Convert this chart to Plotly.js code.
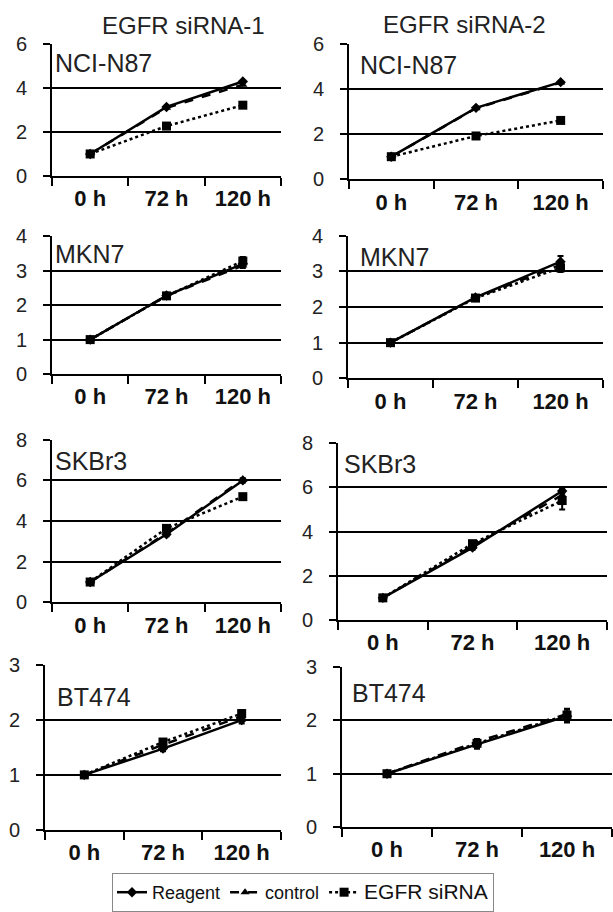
<!DOCTYPE html>
<html>
<head>
<meta charset="utf-8">
<script src="https://cdn.plot.ly/plotly-3.0.1.min.js"></script>
<style>html,body{margin:0;padding:0;background:#fff;}#chart{width:613px;height:912px;}</style>
</head>
<body>
<div id="chart"></div>
<script>
// ---- data ----
const timepoints = ['0 h', '72 h', '120 h'];
const seriesNames = ['Reagent', 'control', 'EGFR siRNA'];
const columnTitles = ['EGFR siRNA-1', 'EGFR siRNA-2'];
const cellLines = ['NCI-N87', 'MKN7', 'SKBr3', 'BT474'];

// NCI-N87
const n87_1_reagent = [1, 3.14, 4.30];
const n87_1_control = [1, 3.10, 4.15];
const n87_1_sirna   = [1, 2.27, 3.22];
const n87_2_reagent = [1, 3.17, 4.31];
const n87_2_control = [1, 3.15, 4.29];
const n87_2_sirna   = [1, 1.92, 2.61];
// MKN7
const mkn7_1_reagent = [1, 2.28, 3.20];
const mkn7_1_control = [1, 2.27, 3.15];
const mkn7_1_sirna   = [1, 2.27, 3.28];
const mkn7_2_reagent = [1, 2.27, 3.27];
const mkn7_2_control = [1, 2.26, 3.18];
const mkn7_2_sirna   = [1, 2.25, 3.10];
// SKBr3
const skbr3_1_reagent = [1, 3.35, 6.00];
const skbr3_1_control = [1, 3.40, 6.05];
const skbr3_1_sirna   = [1, 3.64, 5.20];
const skbr3_2_reagent = [1, 3.27, 5.83];
const skbr3_2_control = [1, 3.35, 5.65];
const skbr3_2_sirna   = [1, 3.45, 5.40];
// BT474
const bt474_1_reagent = [1, 1.48, 2.00];
const bt474_1_control = [1, 1.55, 2.07];
const bt474_1_sirna   = [1, 1.60, 2.12];
const bt474_2_reagent = [1, 1.55, 2.08];
const bt474_2_control = [1, 1.60, 2.12];
const bt474_2_sirna   = [1, 1.57, 2.10];

// error bars (SD), where visible
const mkn7_1_err   = [0, 0.03, 0.12];
const mkn7_2_err   = [0, 0.04, 0.16];
const skbr3_1_err  = [0, 0.10, 0.10];
const skbr3_2_err  = [0, 0.12, 0.40];
const bt474_1_err  = [0, 0.05, 0.06];
const bt474_2_err  = [0, 0.08, 0.12];
const zero_err     = [0, 0, 0];

// ---- layout geometry (pixels) ----
const W = 613, H = 912;
const panels = [
  {x0: 52,  x1: 281, yt: 44.3,  yb: 176.7, ymax: 6, dtick: 2, lx: 53,  ly: 63,  cell: 0, series: [n87_1_reagent, n87_1_control, n87_1_sirna], err: [zero_err, zero_err, zero_err]},
  {x0: 349, x1: 603, yt: 44.3,  yb: 180,   ymax: 6, dtick: 2, lx: 358, ly: 65,  cell: 0, series: [n87_2_reagent, n87_2_control, n87_2_sirna], err: [zero_err, zero_err, zero_err]},
  {x0: 52,  x1: 281, yt: 237.3, yb: 375.7, ymax: 4, dtick: 1, lx: 53,  ly: 255, cell: 1, series: [mkn7_1_reagent, mkn7_1_control, mkn7_1_sirna], err: [mkn7_1_err, zero_err, mkn7_1_err]},
  {x0: 348, x1: 603, yt: 236.7, yb: 380,   ymax: 4, dtick: 1, lx: 358, ly: 258, cell: 1, series: [mkn7_2_reagent, mkn7_2_control, mkn7_2_sirna], err: [mkn7_2_err, zero_err, mkn7_1_err]},
  {x0: 52,  x1: 281, yt: 441.7, yb: 605,   ymax: 8, dtick: 2, lx: 53,  ly: 463, cell: 2, series: [skbr3_1_reagent, skbr3_1_control, skbr3_1_sirna], err: [skbr3_1_err, zero_err, skbr3_1_err]},
  {x0: 338, x1: 607, yt: 445,   yb: 622.7, ymax: 8, dtick: 2, lx: 342, ly: 466, cell: 2, series: [skbr3_2_reagent, skbr3_2_control, skbr3_2_sirna], err: [skbr3_1_err, zero_err, skbr3_2_err]},
  {x0: 45,  x1: 281, yt: 668.3, yb: 833.3, ymax: 3, dtick: 1, lx: 55,  ly: 700, cell: 3, series: [bt474_1_reagent, bt474_1_control, bt474_1_sirna], err: [bt474_1_err, zero_err, bt474_1_err]},
  {x0: 342, x1: 612, yt: 670,   yb: 830.7, ymax: 3, dtick: 1, lx: 350, ly: 696, cell: 3, series: [bt474_2_reagent, bt474_2_control, bt474_2_sirna], err: [bt474_2_err, zero_err, bt474_2_err]}
];

const styles = [
  {dash: 'solid', symbol: 'diamond', size: 8},
  {dash: 'dash', symbol: 'triangle-up', size: 8},
  {dash: 'dot', symbol: 'square', size: 9}
];
const legendLabels = [
  seriesNames[0],
  seriesNames[1],
  '<span style="font-size:21px">' + seriesNames[2] + '</span>'
];

const FONT = 'Liberation Sans, Arial, sans-serif';
const traces = [];
const layout = {
  width: W, height: H,
  margin: {l: 0, r: 0, t: 0, b: 0},
  paper_bgcolor: '#fff', plot_bgcolor: '#fff',
  font: {family: FONT, color: '#111'},
  showlegend: true,
  legend: {
    orientation: 'h', x: 112 / W, xanchor: 'left', y: 1 - 877 / H, yanchor: 'top',
    bordercolor: '#888', borderwidth: 1, bgcolor: '#fff',
    font: {size: 18, family: FONT, color: '#111'},
    itemwidth: 30, tracegroupgap: 0, itemclick: false
  },
  annotations: [],
  shapes: []
};

panels.forEach((p, i) => {
  const n = i + 1;
  const xa = 'xaxis' + (n === 1 ? '' : n);
  const ya = 'yaxis' + (n === 1 ? '' : n);
  layout[xa] = {
    domain: [p.x0 / W, p.x1 / W],
    anchor: 'y' + (n === 1 ? '' : n),
    type: 'category', categoryorder: 'array', categoryarray: timepoints,
    range: [-0.5, 2.5],
    tickson: 'boundaries', ticks: 'outside', ticklen: 8, tickwidth: 2, tickcolor: '#000',
    showline: true, linecolor: '#000', linewidth: 2,
    showgrid: false, zeroline: false,
    tickfont: {family: FONT, size: 22, weight: 'bold', color: '#111'},
    ticklabelstandoff: 2,
    fixedrange: true
  };
  layout[ya] = {
    domain: [1 - p.yb / H, 1 - p.yt / H],
    anchor: 'x' + (n === 1 ? '' : n),
    range: [0, p.ymax], dtick: p.dtick, tick0: 0,
    ticks: 'outside', ticklen: 7, tickwidth: 2, tickcolor: '#000',
    showline: true, linecolor: '#000', linewidth: 2,
    showgrid: true, gridcolor: '#000', gridwidth: 2,
    zeroline: false,
    tickfont: {family: FONT, size: 20, color: '#222'},
    ticklabelstandoff: 12,
    fixedrange: true
  };
  p.series.forEach((vals, k) => {
    const hasErr = p.err[k].some(v => v > 0);
    traces.push({
      type: 'scatter', mode: 'lines+markers',
      x: timepoints, y: vals,
      xaxis: 'x' + (n === 1 ? '' : n), yaxis: 'y' + (n === 1 ? '' : n),
      name: legendLabels[k], legendgroup: seriesNames[k], showlegend: i === 0,
      line: {color: '#000', width: 2.5, dash: styles[k].dash},
      marker: {color: '#000', symbol: styles[k].symbol, size: styles[k].size},
      error_y: hasErr ? {type: 'data', array: p.err[k], visible: true, color: '#000', thickness: 2, width: 3} : {visible: false},
      cliponaxis: false
    });
  });
  layout.annotations.push({
    text: cellLines[p.cell], xref: 'paper', yref: 'paper',
    x: p.lx / W, y: 1 - p.ly / H, xanchor: 'left', yanchor: 'middle',
    showarrow: false, font: {family: FONT, size: 25, color: '#222'}
  });
});

layout.annotations.push({
  text: columnTitles[0], xref: 'paper', yref: 'paper',
  x: 183 / W, y: 1 - 26 / H, xanchor: 'center', yanchor: 'middle',
  showarrow: false, font: {family: FONT, size: 24, color: '#222'}
});
layout.annotations.push({
  text: columnTitles[1], xref: 'paper', yref: 'paper',
  x: 464 / W, y: 1 - 25 / H, xanchor: 'center', yanchor: 'middle',
  showarrow: false, font: {family: FONT, size: 24, color: '#222'}
});

Plotly.newPlot('chart', traces, layout, {staticPlot: true, displayModeBar: false});
</script>
</body>
</html>
